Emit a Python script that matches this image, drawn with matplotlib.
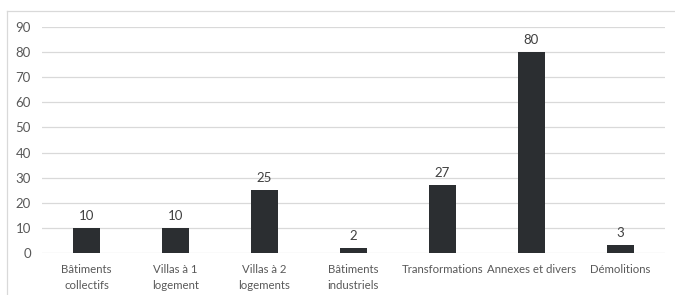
import matplotlib
matplotlib.use("Agg")
import matplotlib.pyplot as plt

categories = ["Bâtiments\ncollectifs", "Villas à 1\nlogement", "Villas à 2\nlogements",
              "Bâtiments\nindustriels", "Transformations", "Annexes et divers", "Démolitions"]
values = [10, 10, 25, 2, 27, 80, 3]
yticks = [0, 10, 20, 30, 40, 50, 60, 70, 80, 90]

plt.rcParams['font.family'] = ['Lato', 'DejaVu Sans']

fig = plt.figure(figsize=(6.75, 2.95), dpi=100)
ax = fig.add_axes([42/675, 1-253/295, (665-42)/675, (253-27)/295])

bar_color = "#2b2e31"
text_color = "#595959"
x = list(range(len(categories)))
ax.bar(x, values, width=0.31, color=bar_color, zorder=3)
for xi, v in zip(x, values):
    ax.text(xi, v + 2.5, str(v), ha="center", va="bottom", fontsize=9.5, color="#404040")

ax.set_xlim(-0.5, len(categories) - 0.5)
ax.set_ylim(0, 90)
ax.set_yticks(yticks)
ax.set_xticks(x)
ax.set_xticklabels(categories, fontsize=8.2, color=text_color, linespacing=1.5)
ax.tick_params(axis="y", labelsize=9.5, labelcolor=text_color, length=0, pad=8)
ax.tick_params(axis="x", length=0, pad=8)
ax.yaxis.grid(True, color="#d9d9d9", linewidth=0.9, zorder=0)
ax.set_axisbelow(True)
for s in ax.spines.values():
    s.set_visible(False)

# chart border (left and top visible)
fig.add_artist(plt.Line2D([7/675, 7/675], [0, 1-11/295], transform=fig.transFigure,
                          color="#d9d9d9", linewidth=0.9))
fig.add_artist(plt.Line2D([7/675, 1], [1-11/295, 1-11/295], transform=fig.transFigure,
                          color="#d9d9d9", linewidth=0.9))

fig.savefig("out.png", dpi=100)
